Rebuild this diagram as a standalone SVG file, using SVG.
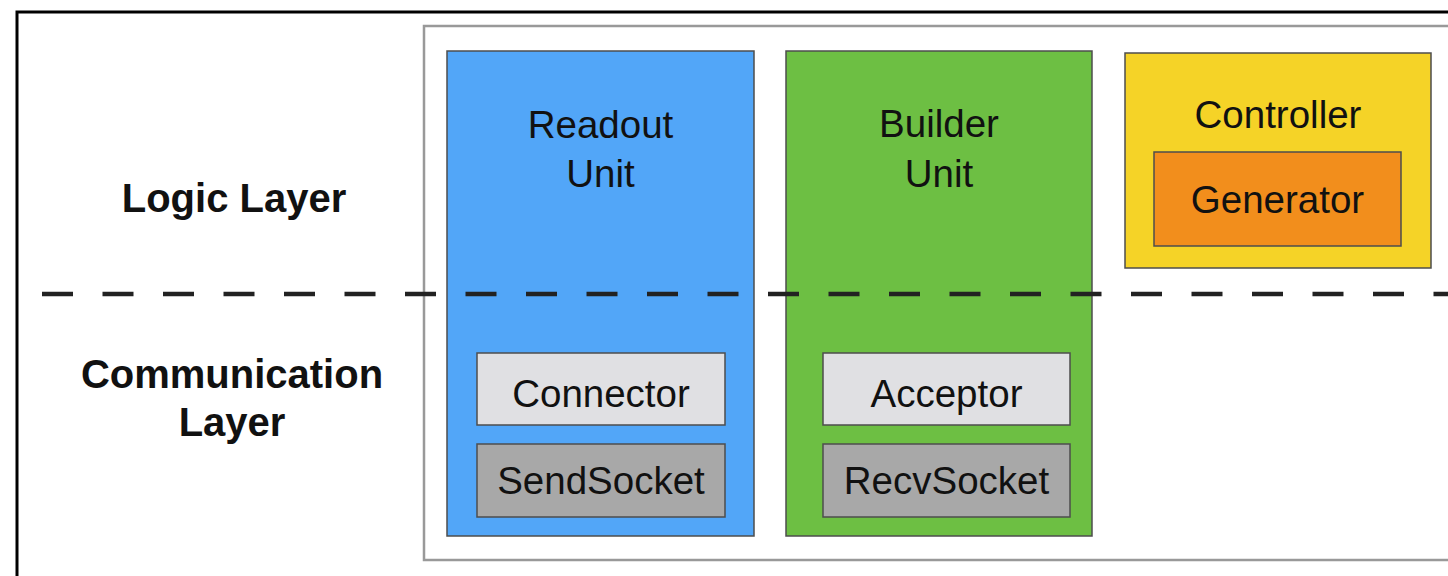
<svg xmlns="http://www.w3.org/2000/svg" width="1448" height="576" viewBox="0 0 1448 576">
  <defs>
    <style>
      .t { font-family: "Liberation Sans", Arial, Helvetica, sans-serif; fill: #111; text-anchor: middle; }
      .lbl { font-size: 38.5px; }
      .layer { font-size: 40px; font-weight: bold; }
      .box { stroke: #4d4d4d; stroke-width: 1.5; }
    </style>
  </defs>
  <rect x="0" y="0" width="1448" height="576" fill="#ffffff"/>
  <g id="outer-frame">
    <rect x="17" y="12" width="1460" height="600" fill="none" stroke="#000" stroke-width="3"/>
  </g>
  <g id="system-frame">
    <rect x="424" y="26" width="1060" height="534" fill="none" stroke="#999" stroke-width="2.5"/>
  </g>
  <g id="layer-labels">
    <text class="t layer" x="234" y="212">Logic Layer</text>
    <text class="t layer" x="232" y="388">Communication</text>
    <text class="t layer" x="232" y="436">Layer</text>
  </g>
  <g id="readout-unit">
    <rect class="box" x="447" y="51" width="307" height="485" fill="#52A6F8"/>
    <text class="t lbl" x="600.5" y="138">Readout</text>
    <text class="t lbl" x="600.5" y="187">Unit</text>
  </g>
  <g id="builder-unit">
    <rect class="box" x="786" y="51" width="306" height="485" fill="#6DBF43"/>
    <text class="t lbl" x="939" y="137">Builder</text>
    <text class="t lbl" x="939" y="187">Unit</text>
  </g>
  <g id="controller">
    <rect class="box" x="1125" y="53" width="306" height="215" fill="#F5D327"/>
    <text class="t lbl" x="1278" y="128">Controller</text>
  </g>
  <g id="generator">
    <rect class="box" x="1154" y="152" width="247" height="94" fill="#F28E1C"/>
    <text class="t lbl" x="1277.5" y="213">Generator</text>
  </g>
  <g id="connectors">
    <line x1="42" y1="294" x2="1448" y2="294" stroke="#222" stroke-width="4.5" stroke-dasharray="31 29.5"/>
  </g>
  <g id="connector">
    <rect class="box" x="477" y="353" width="248" height="72" fill="#E0E0E3"/>
    <text class="t lbl" x="601" y="407">Connector</text>
  </g>
  <g id="sendsocket">
    <rect class="box" x="477" y="444" width="248" height="73" fill="#A8A8A8"/>
    <text class="t lbl" x="601" y="494">SendSocket</text>
  </g>
  <g id="acceptor">
    <rect class="box" x="823" y="353" width="247" height="72" fill="#E0E0E3"/>
    <text class="t lbl" x="946.5" y="407">Acceptor</text>
  </g>
  <g id="recvsocket">
    <rect class="box" x="823" y="444" width="247" height="73" fill="#A8A8A8"/>
    <text class="t lbl" x="946.5" y="494">RecvSocket</text>
  </g>
</svg>
